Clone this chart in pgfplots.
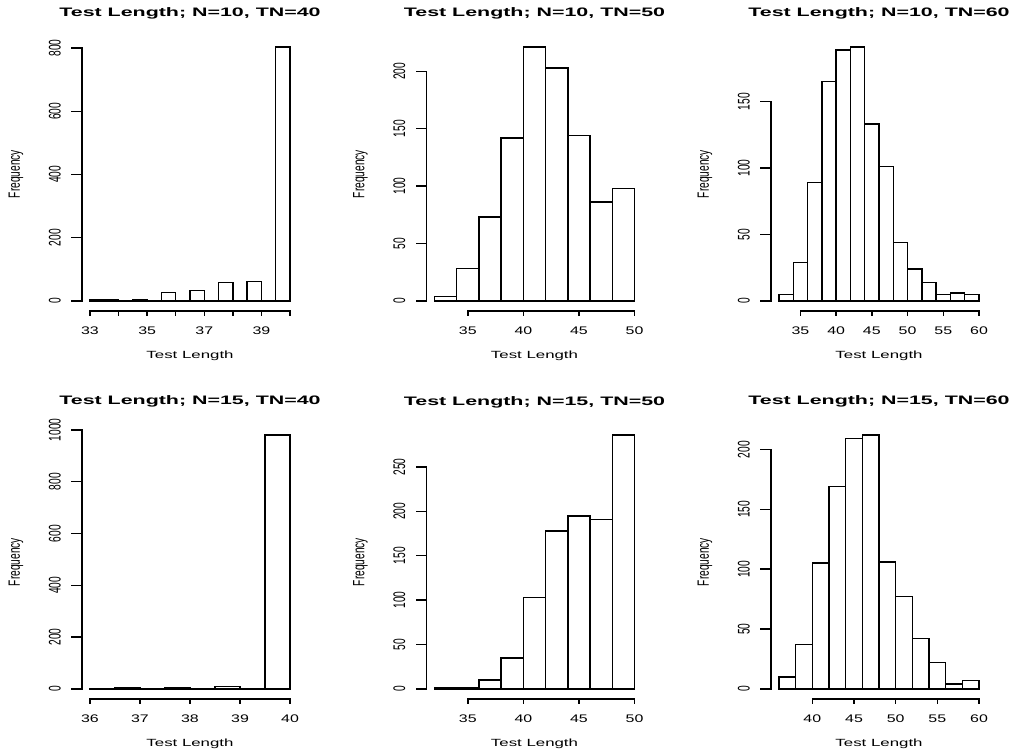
\documentclass[border=0pt]{standalone}
\usepackage{fontspec}
\setmainfont{Liberation Sans}
\usepackage{graphicx}
\usepackage{pgfplots}
\pgfplotsset{compat=1.18}

\tikzset{rax/.style={line width=1.4pt, line cap=rect}}
\pgfplotsset{
 rhist/.style={
  scale only axis, width=216pt, height=274pt, anchor=south west, clip=false,
  axis line style={draw=none}, major tick length=0pt, minor tick num=0,
  tick style={draw=none},
  scaled ticks=false,
  /pgf/number format/assume math mode=true, /pgf/number format/1000 sep={},
  xticklabel style={anchor=base, yshift=-23.5pt, xscale=1.45, inner sep=0pt, font=\fontsize{11}{13}\selectfont},
  yticklabel={\scalebox{1}[1.65]{\pgfmathprintnumber{\tick}}},
  yticklabel style={rotate=90, anchor=south, inner xsep=0pt, inner ysep=21pt, font=\fontsize{10.2}{12}\selectfont},
  every axis title/.style={at={(axis description cs:0.5,1.073)}, anchor=base, xscale=1.74, inner sep=0pt, font=\fontsize{12.3}{14}\selectfont\bfseries},
  every axis x label/.style={at={(axis description cs:0.5,-0.1734)}, anchor=base, xscale=1.62, inner sep=0pt, font=\fontsize{10.4}{12}\selectfont},
  every axis y label/.style={at={(axis description cs:-0.3056,0.5)}, anchor=center, rotate=90, inner sep=0pt, font=\fontsize{10.2}{12}\selectfont},
  xlabel={Test Length}, ylabel={\scalebox{1}[1.6]{Frequency}},
 },
 hbar/.style={ybar interval, draw=black, fill=white, line width=1.4pt},
}

\begin{document}
\begin{tikzpicture}

% ---------- Panel 1: N=10, TN=40
\begin{axis}[rhist, at={(82pt,442pt)},
  title={Test Length; N=10, TN=40},
  xmin=32.72, xmax=40.28, ymin=-32.12, ymax=835.12,
  xtick={33,34,35,36,37,38,39,40}, xticklabels={33,,35,,37,,39,},
  ytick={0,200,400,600,800}]
\addplot[hbar] coordinates {(33,3) (33.5,5) (34,0) (34.5,5) (35,0) (35.5,27) (36,0) (36.5,32) (37,0) (37.5,58) (38,0) (38.5,62) (39,0) (39.5,803) (40,803)};
\draw[rax] (axis cs:33,-32.12) -- (axis cs:40,-32.12);
\pgfplotsinvokeforeach{33,34,35,36,37,38,39,40}{\draw[rax] (axis cs:#1,-32.12) -- ([yshift=-4.7pt]axis cs:#1,-32.12);}
\draw[rax] (axis cs:32.72,0) -- (axis cs:32.72,800);
\pgfplotsinvokeforeach{0,200,400,600,800}{\draw[rax] (axis cs:32.72,#1) -- ([xshift=-10pt]axis cs:32.72,#1);}
\end{axis}

% ---------- Panel 2: N=10, TN=50
\begin{axis}[rhist, at={(426.5pt,442pt)},
  title={Test Length; N=10, TN=50},
  xmin=31.28, xmax=50.72, ymin=-8.84, ymax=229.84,
  xtick={35,40,45,50},
  ytick={0,50,100,150,200}]
\addplot[hbar] coordinates {(32,4) (34,28) (36,73) (38,142) (40,221) (42,203) (44,144) (46,86) (48,98) (50,98)};
\draw[rax] (axis cs:35,-8.84) -- (axis cs:50,-8.84);
\pgfplotsinvokeforeach{35,40,45,50}{\draw[rax] (axis cs:#1,-8.84) -- ([yshift=-4.7pt]axis cs:#1,-8.84);}
\draw[rax] (axis cs:31.28,0) -- (axis cs:31.28,200);
\pgfplotsinvokeforeach{0,50,100,150,200}{\draw[rax] (axis cs:31.28,#1) -- ([xshift=-10pt]axis cs:31.28,#1);}
\end{axis}

% ---------- Panel 3: N=10, TN=60
\begin{axis}[rhist, at={(771pt,442pt)},
  title={Test Length; N=10, TN=60},
  xmin=30.88, xmax=61.12, ymin=-7.64, ymax=198.64,
  xtick={35,40,45,50,55,60},
  ytick={0,50,100,150}]
\addplot[hbar] coordinates {(32,5) (34,29) (36,89) (38,165) (40,189) (42,191) (44,133) (46,101) (48,44) (50,24) (52,14) (54,5) (56,6) (58,5) (60,5)};
\draw[rax] (axis cs:35,-7.64) -- (axis cs:60,-7.64);
\pgfplotsinvokeforeach{35,40,45,50,55,60}{\draw[rax] (axis cs:#1,-7.64) -- ([yshift=-4.7pt]axis cs:#1,-7.64);}
\draw[rax] (axis cs:30.88,0) -- (axis cs:30.88,150);
\pgfplotsinvokeforeach{0,50,100,150}{\draw[rax] (axis cs:30.88,#1) -- ([xshift=-10pt]axis cs:30.88,#1);}
\end{axis}

% ---------- Panel 4: N=15, TN=40
\begin{axis}[rhist, at={(82pt,54pt)},
  title={Test Length; N=15, TN=40},
  xmin=35.84, xmax=40.16, ymin=-39.2, ymax=1019.2,
  xtick={36,37,38,39,40},
  ytick={0,200,400,600,800,1000}]
\addplot[hbar] coordinates {(36,1) (36.5,3) (37,0) (37.5,6) (38,0) (38.5,10) (39,0) (39.5,980) (40,980)};
\draw[rax] (axis cs:36,-39.2) -- (axis cs:40,-39.2);
\pgfplotsinvokeforeach{36,37,38,39,40}{\draw[rax] (axis cs:#1,-39.2) -- ([yshift=-4.7pt]axis cs:#1,-39.2);}
\draw[rax] (axis cs:35.84,0) -- (axis cs:35.84,1000);
\pgfplotsinvokeforeach{0,200,400,600,800,1000}{\draw[rax] (axis cs:35.84,#1) -- ([xshift=-10pt]axis cs:35.84,#1);}
\end{axis}

% ---------- Panel 5: N=15, TN=50
\begin{axis}[rhist, at={(426.5pt,54pt)},
  title={Test Length; N=15, TN=50},
  xmin=31.28, xmax=50.72, ymin=-11.44, ymax=297.44,
  xtick={35,40,45,50},
  ytick={0,50,100,150,200,250}]
\addplot[hbar] coordinates {(32,1) (34,1) (36,10) (38,35) (40,103) (42,178) (44,195) (46,191) (48,286) (50,286)};
\draw[rax] (axis cs:35,-11.44) -- (axis cs:50,-11.44);
\pgfplotsinvokeforeach{35,40,45,50}{\draw[rax] (axis cs:#1,-11.44) -- ([yshift=-4.7pt]axis cs:#1,-11.44);}
\draw[rax] (axis cs:31.28,0) -- (axis cs:31.28,250);
\pgfplotsinvokeforeach{0,50,100,150,200,250}{\draw[rax] (axis cs:31.28,#1) -- ([xshift=-10pt]axis cs:31.28,#1);}
\end{axis}

% ---------- Panel 6: N=15, TN=60
\begin{axis}[rhist, at={(771pt,54pt)},
  title={Test Length; N=15, TN=60},
  xmin=35.04, xmax=60.96, ymin=-8.48, ymax=220.48,
  xtick={40,45,50,55,60},
  ytick={0,50,100,150,200}]
\addplot[hbar] coordinates {(36,10) (38,37) (40,105) (42,169) (44,209) (46,212) (48,106) (50,77) (52,42) (54,22) (56,4) (58,7) (60,7)};
\draw[rax] (axis cs:40,-8.48) -- (axis cs:60,-8.48);
\pgfplotsinvokeforeach{40,45,50,55,60}{\draw[rax] (axis cs:#1,-8.48) -- ([yshift=-4.7pt]axis cs:#1,-8.48);}
\draw[rax] (axis cs:35.04,0) -- (axis cs:35.04,200);
\pgfplotsinvokeforeach{0,50,100,150,200}{\draw[rax] (axis cs:35.04,#1) -- ([xshift=-10pt]axis cs:35.04,#1);}
\end{axis}

\pgfresetboundingbox
\path[use as bounding box] (0,0) rectangle (1017pt,753pt);
\end{tikzpicture}
\end{document}
